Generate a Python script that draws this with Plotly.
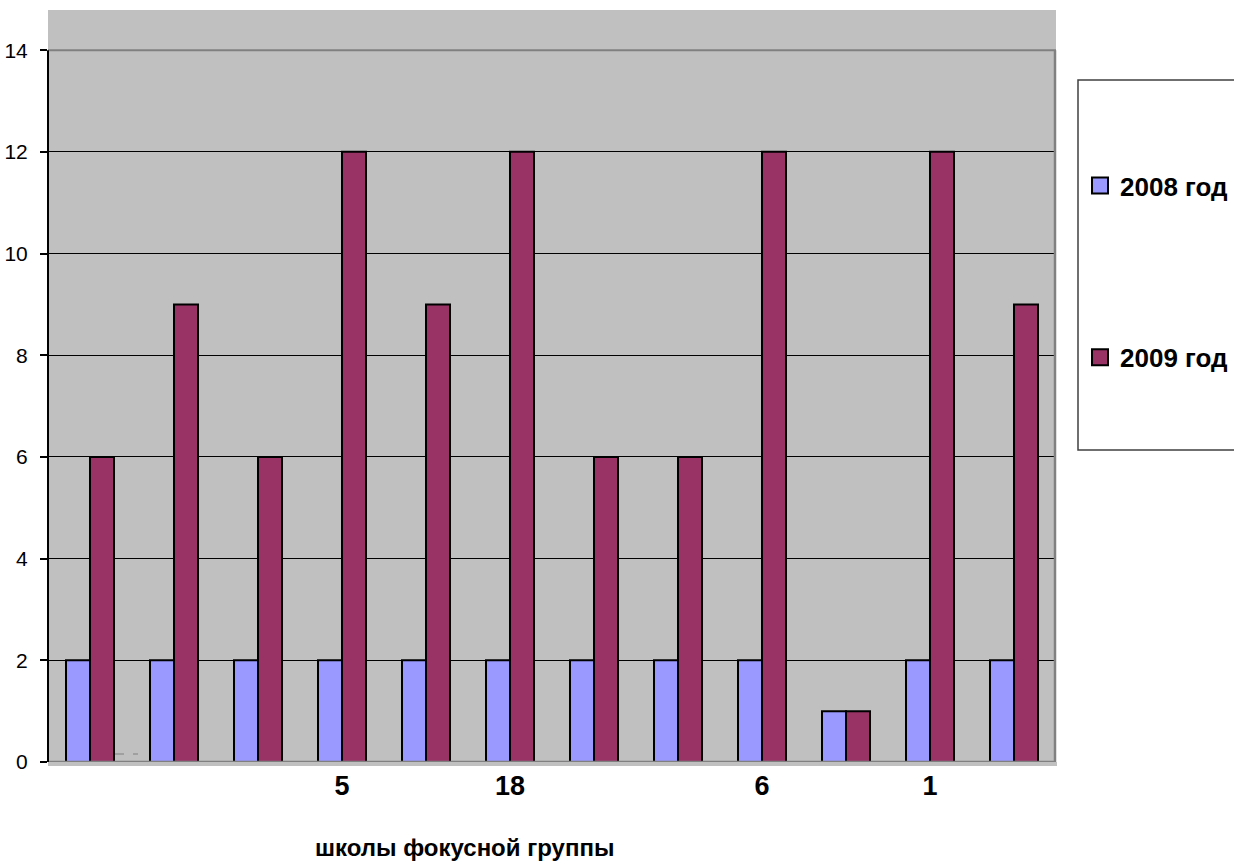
import plotly.graph_objects as go

# Schools of the focus group (only some are labelled on the axis)
school_labels = ["", "", "", "5", "", "18", "", "", "6", "", "1", ""]
series_names = ["2008 год", "2009 год"]
values_2008 = [2, 2, 2, 2, 2, 2, 2, 2, 2, 1, 2, 2]
values_2009 = [6, 9, 6, 12, 9, 12, 6, 6, 12, 1, 12, 9]
y_ticks = [0, 2, 4, 6, 8, 10, 12, 14]

colors = ["#9999FF", "#993366"]
FONT = "Arial, Liberation Sans, sans-serif"
W, H = 1234, 867
L, R, T, B = 48, 178, 10, 105
PW, PH = W - L - R, H - T - B
positions = list(range(len(school_labels)))
y_top = 14.79


def px_x(px):
    """Pixel column -> paper x (relative to the plot area)."""
    return (px - L) / PW


def px_y(px):
    """Pixel row -> paper y (relative to the plot area)."""
    return (H - B - px) / PH


fig = go.Figure()
for name, vals, col in zip(series_names, [values_2008, values_2009], colors):
    fig.add_trace(go.Bar(
        x=positions, y=vals, name=name, showlegend=False,
        marker=dict(color=col, line=dict(color="black", width=2)),
    ))
    # legend entry with a larger square swatch
    fig.add_trace(go.Scatter(
        x=[None], y=[None], mode="markers", name=name, legendgroup=name,
        marker=dict(symbol="square", size=16, color=col,
                    line=dict(color="black", width=2)),
    ))

shapes = [
    # floor strip under the plot
    dict(type="rect", xref="paper", yref="paper", x0=0, x1=px_x(1057),
         y0=px_y(766), y1=0, fillcolor="#C0C0C0", line_width=0),
    # base line at zero
    dict(type="line", xref="paper", yref="y", x0=0, x1=1, y0=0, y1=0,
         line=dict(color="#808080", width=2.5), layer="above"),
    # top gridline
    dict(type="line", xref="paper", yref="y", x0=0, x1=1, y0=14, y1=14,
         line=dict(color="#808080", width=2), layer="above"),
    # right wall edge
    dict(type="line", xref="paper", yref="y", x0=px_x(1055), x1=px_x(1055),
         y0=0, y1=14, line=dict(color="#808080", width=2.5), layer="above"),
    # value axis line
    dict(type="line", xref="paper", yref="y", x0=0, x1=0, y0=0, y1=14,
         line=dict(color="#000000", width=2), layer="above"),
    # small dashes near the first group
    dict(type="line", xref="paper", yref="paper", x0=px_x(115), x1=px_x(138),
         y0=px_y(754), y1=px_y(754), line=dict(color="#808080", width=1, dash="dash"),
         layer="above"),
    # legend frame
    dict(type="rect", xref="paper", yref="paper", x0=px_x(1078), x1=px_x(1260),
         y0=px_y(450), y1=px_y(80), line=dict(color="#404040", width=1.5),
         fillcolor="rgba(0,0,0,0)"),
]

fig.update_layout(
    width=W, height=H,
    margin=dict(l=L, r=R, t=T, b=B, autoexpand=False),
    paper_bgcolor="white", plot_bgcolor="#C0C0C0",
    barmode="group", bargap=1 - 48 / 84, bargroupgap=0,
    font=dict(family=FONT, color="black"),
    shapes=shapes,
    xaxis=dict(
        range=[-0.5, len(school_labels) - 0.5],
        tickvals=positions, ticktext=school_labels,
        tickfont=dict(size=27, family=FONT, weight="bold"),
        ticks="", showgrid=False, zeroline=False, showline=False,
        ticklabelstandoff=5, automargin=False,
    ),
    yaxis=dict(
        range=[0, y_top], tickvals=y_ticks,
        tickfont=dict(size=21, family=FONT),
        ticks="outside", ticklen=7, tickcolor="black", tickwidth=1.5,
        showgrid=True, gridcolor="black", gridwidth=1,
        zeroline=False, showline=False, ticklabelstandoff=8, automargin=False,
    ),
    annotations=[dict(
        text="<b>школы фокусной группы</b>", xref="paper", yref="paper",
        x=px_x(464), y=px_y(847), xanchor="center", yanchor="middle",
        showarrow=False, font=dict(size=24, family=FONT),
    )],
    legend=dict(
        x=px_x(1080), xanchor="left", y=px_y(162), yanchor="top",
        bgcolor="rgba(0,0,0,0)", borderwidth=0,
        font=dict(size=26, family=FONT, weight="bold"),
        tracegroupgap=135, itemsizing="trace",
    ),
)

fig.write_html("out.html")
